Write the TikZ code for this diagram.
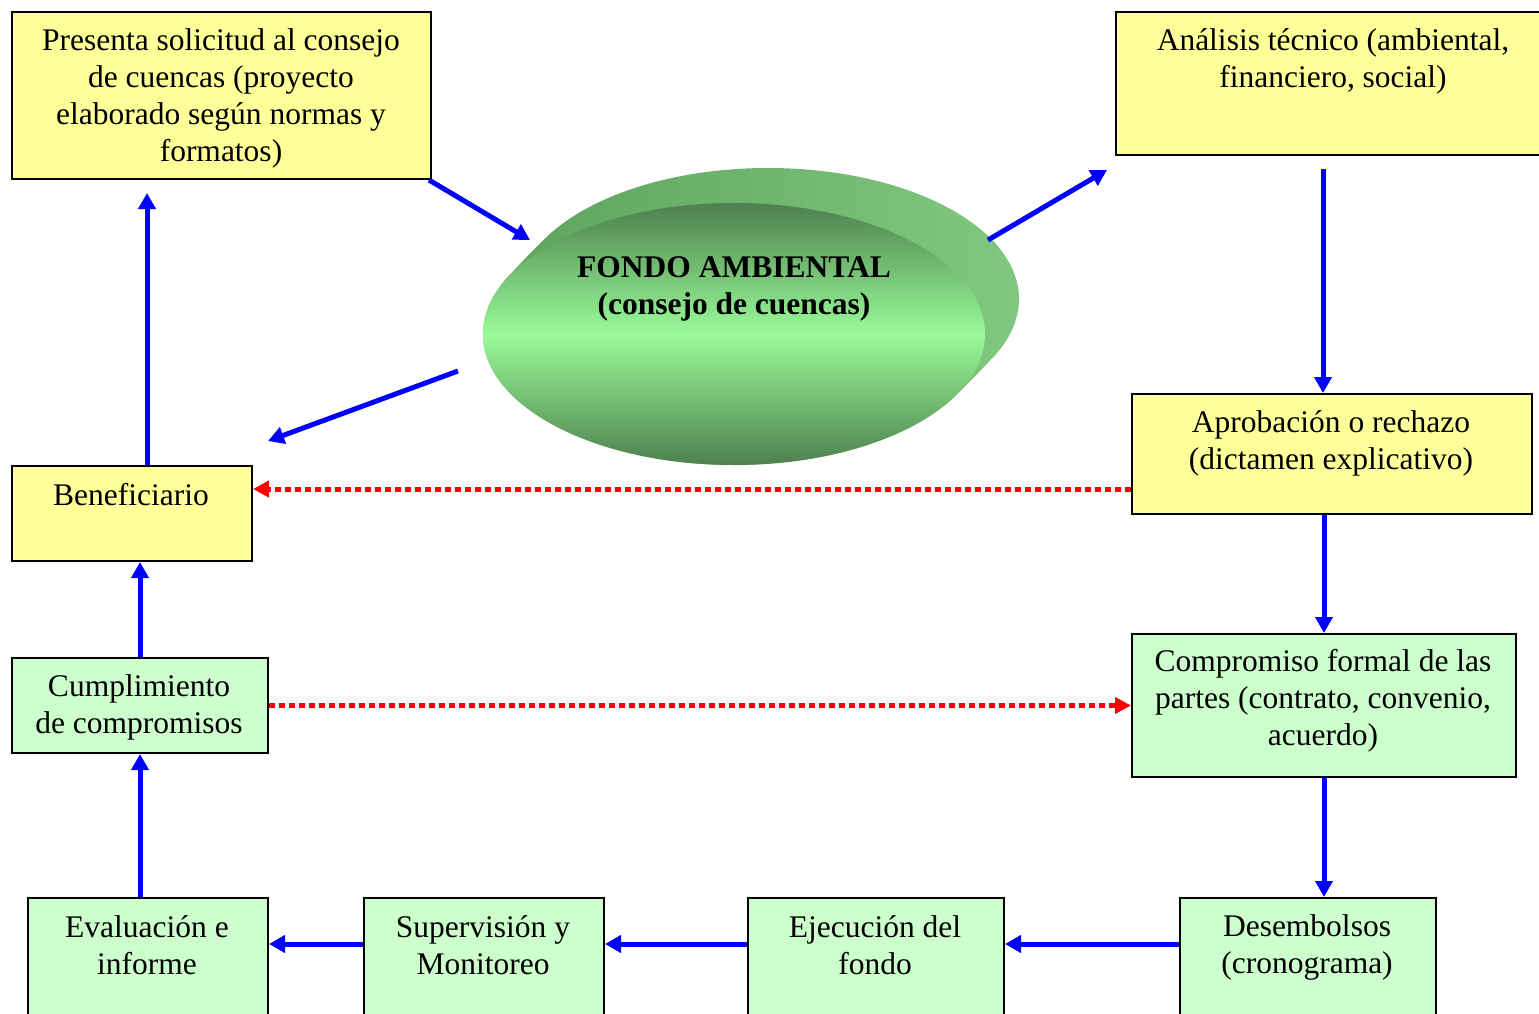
\documentclass[tikz,border=0pt]{standalone}
\usepackage{fontspec}
\setmainfont{Liberation Serif}
\usetikzlibrary{arrows.meta,shapes.geometric}
\definecolor{boxyellow}{HTML}{FFFF99}
\definecolor{boxgreen}{HTML}{CCFFCC}
\definecolor{flowblue}{HTML}{0000FF}
\definecolor{flowred}{HTML}{FF0000}
\definecolor{discdark}{HTML}{4E804E}
\definecolor{disclight}{HTML}{99FB99}
\definecolor{rimleft}{HTML}{5FA45F}
\definecolor{rimright}{HTML}{80C880}

\begin{document}
\begin{tikzpicture}[x=1pt,y=-1pt,
  stepbox/.style={draw=black, line width=2pt, rectangle, inner sep=0pt, anchor=north west},
  ybox/.style={stepbox, fill=boxyellow},
  gbox/.style={stepbox, fill=boxgreen},
  lbl/.style={align=center, font=\fontsize{31.5}{37}\selectfont, inner sep=0pt},
  flow/.style={draw=flowblue, line width=5pt, -{Triangle[length=16pt,width=17pt]}},
  link/.style={draw=flowred, line width=5pt, dash pattern=on 6pt off 4pt, -{Triangle[length=16pt,width=16pt]}},
]
\useasboundingbox (0,0) rectangle (1539,1014);
\clip (0,0) rectangle (1539,1014);

% process boxes
\node[ybox, minimum width=419pt, minimum height=167pt] (solicitud) at (11,11) {};
\node[ybox, minimum width=440pt, minimum height=143pt] (analisis) at (1115,11) {};
\node[ybox, minimum width=400pt, minimum height=120pt] (aprobacion) at (1131,393) {};
\node[ybox, minimum width=240pt, minimum height=95pt] (beneficiario) at (11,465) {};
\node[gbox, minimum width=256pt, minimum height=95pt] (cumplimiento) at (11,657) {};
\node[gbox, minimum width=384pt, minimum height=143pt] (compromiso) at (1131,633) {};
\node[gbox, minimum width=240pt, minimum height=140pt] (evaluacion) at (27,897) {};
\node[gbox, minimum width=240pt, minimum height=140pt] (supervision) at (363,897) {};
\node[gbox, minimum width=256pt, minimum height=140pt] (ejecucion) at (747,897) {};
\node[gbox, minimum width=256pt, minimum height=140pt] (desembolsos) at (1179,897) {};

% box texts
\node[lbl] (t-solicitud) at (221,98) {Presenta solicitud al consejo\\de cuencas (proyecto\\elaborado según normas y\\formatos)};
\node[lbl] (t-analisis) at (1333,61) {Análisis técnico (ambiental,\\financiero, social)};
\node[lbl] (t-aprobacion) at (1331,443) {Aprobación o rechazo\\(dictamen explicativo)};
\node[lbl] (t-beneficiario) at (131,495) {Beneficiario};
\node[lbl] (t-cumplimiento) at (139,707) {Cumplimiento\\de compromisos};
\node[lbl] (t-compromiso) at (1323,701) {Compromiso formal de las\\partes (contrato, convenio,\\acuerdo)};
\node[lbl] (t-evaluacion) at (147,945) {Evaluación e\\informe};
\node[lbl] (t-supervision) at (483,945) {Supervisión y\\Monitoreo};
\node[lbl] (t-ejecucion) at (875,945) {Ejecución del\\fondo};
\node[lbl] (t-desembolsos) at (1307,947) {Desembolsos\\(cronograma)};

% the fund: extruded disc
\foreach \k in {0,...,34}
  \shade[left color=rimleft, right color=rimright] (734+\k, 334-\k*35/34) ellipse [x radius=251pt, y radius=131pt];
\node[ellipse, minimum width=502pt, minimum height=262pt, inner sep=0pt,
      top color=discdark, bottom color=discdark, middle color=disclight] (fondo) at (734,334) {};
\node[lbl, font=\fontsize{31.5}{37}\selectfont\bfseries] (t-fondo) at (734,289) {FONDO AMBIENTAL\\(consejo de cuencas)};

% connectors
\coordinate (fondo-in) at (530,240);
\coordinate (fondo-out) at (988,240);
\coordinate (analisis-in) at (1107,170);
\coordinate (analisis-out) at (1323,169);
\coordinate (fondo-back) at (458,371);
\coordinate (beneficiario-in) at (268,441);
\coordinate (solicitud-in) at (147,193);
\coordinate (fila) at (0,944);
\coordinate (dictamen) at (0,489);

\draw[flow] ([xshift=-3pt]solicitud.south east) -- (fondo-in);
\draw[flow] (fondo-out) -- (analisis-in);
\draw[flow] (analisis-out) -- (analisis-out |- aprobacion.north);
\draw[flow] (fondo-back) -- (beneficiario-in);
\draw[flow] (solicitud-in |- beneficiario.north) -- (solicitud-in);
\draw[flow] (aprobacion.south -| compromiso.north) -- (compromiso.north);
\draw[flow] (compromiso.south) -- (compromiso.south |- desembolsos.north);
\draw[flow] (desembolsos.west |- fila) -- (ejecucion.east |- fila);
\draw[flow] (ejecucion.west |- fila) -- (supervision.east |- fila);
\draw[flow] (supervision.west |- fila) -- (evaluacion.east |- fila);
\draw[flow] (evaluacion.north -| cumplimiento.south) -- (cumplimiento.south);
\draw[flow] (cumplimiento.north) -- (cumplimiento.north |- beneficiario.south);
\draw[link] (aprobacion.west |- dictamen) -- (beneficiario.east |- dictamen);
\draw[link] (cumplimiento.east) -- (compromiso.west);
\end{tikzpicture}
\end{document}
